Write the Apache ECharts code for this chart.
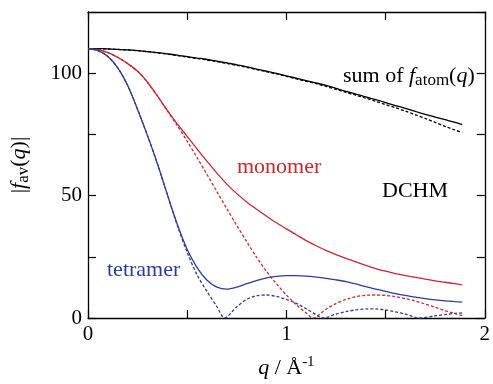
<!DOCTYPE html>
<html>
<head>
<meta charset="utf-8">
<script src="https://cdn.jsdelivr.net/npm/echarts@6/dist/echarts.min.js"></script>
<style>
  html, body { margin: 0; padding: 0; background: #fff; }
  #chart { width: 493px; height: 384px; }
</style>
</head>
<body>
<div id="chart"></div>
<script>
  // q grid (1/Angstrom) shared by the solid curves
  const qGrid = [0, 0.05, 0.1, 0.15, 0.2, 0.25, 0.3, 0.35, 0.4, 0.45, 0.5, 0.55, 0.6, 0.65, 0.7, 0.75, 0.8, 0.85, 0.9, 0.95,
    1.0, 1.05, 1.1, 1.15, 1.2, 1.25, 1.3, 1.35, 1.4, 1.45, 1.5, 1.55, 1.6, 1.65, 1.7, 1.75, 1.8, 1.85, 1.886];

  const sumSolid = [110, 110, 109.9, 109.7, 109.5, 109.2, 108.8, 108.4, 107.9, 107.4, 106.8, 106.2, 105.6, 104.9, 104.2, 103.4, 102.6, 101.7, 100.8, 99.9,
    98.9, 98.0, 97.0, 96.0, 95.0, 93.8, 92.6, 91.5, 90.3, 89.2, 88.0, 86.8, 85.6, 84.4, 83.2, 82.1, 81.0, 79.9, 79.0];
  const sumDashed = [110, 110, 109.9, 109.7, 109.5, 109.2, 108.8, 108.3, 107.8, 107.2, 106.6, 106.0, 105.4, 104.7, 104.0, 103.2, 102.4, 101.5, 100.6, 99.7,
    98.7, 97.7, 96.7, 95.7, 94.6, 93.4, 92.2, 91.0, 89.8, 88.5, 87.2, 85.9, 84.5, 83.0, 81.5, 79.9, 78.3, 76.8, 75.8];

  const monoSolid = [110, 109.6, 108.4, 106.5, 103.9, 100.8, 96.3, 90.7, 84.8, 79.3, 74.2, 69.0, 64.0, 59.2, 54.7, 50.8, 47.4, 44.4, 41.6, 38.9,
    36.4, 34.0, 31.6, 29.5, 27.6, 25.9, 24.4, 22.9, 21.5, 20.2, 19.1, 18.1, 17.3, 16.6, 15.9, 15.2, 14.6, 14.0, 13.5];
  const tetraSolid = [110, 109.2, 106.8, 102.2, 95.0, 85.2, 74.5, 63.0, 50.4, 38.3, 28.0, 20.6, 15.4, 12.6, 11.8, 12.6, 14.0, 15.3, 16.4, 17.0,
    17.3, 17.3, 17.1, 16.7, 16.2, 15.6, 14.9, 13.9, 12.8, 11.8, 10.9, 10.0, 9.2, 8.5, 7.9, 7.4, 7.0, 6.7, 6.5];

  const monoDashQ = [0, 0.05, 0.1, 0.15, 0.2, 0.25, 0.3, 0.35, 0.4, 0.45, 0.5, 0.55, 0.6, 0.65, 0.7, 0.75, 0.8, 0.85, 0.9, 0.95,
    1.0, 1.05, 1.1, 1.135, 1.2, 1.25, 1.3, 1.35, 1.4, 1.45, 1.5, 1.55, 1.6, 1.65, 1.7, 1.75, 1.8, 1.85, 1.886];
  const monoDashed = [110, 109.6, 108.4, 106.5, 103.9, 100.8, 96.3, 90.7, 84.6, 78.6, 72.2, 65.5, 58.6, 51.6, 44.6, 37.8, 31.2, 24.8, 19.0, 14.0,
    9.4, 5.4, 2.0, 0, 3.6, 5.9, 7.6, 8.7, 9.3, 9.4, 9.2, 8.7, 7.9, 6.9, 5.7, 4.4, 3.0, 1.8, 1.0];

  const tetraDashQ = [0, 0.05, 0.1, 0.15, 0.2, 0.25, 0.3, 0.35, 0.4, 0.45, 0.5, 0.55, 0.6, 0.65, 0.688, 0.75, 0.8, 0.85, 0.9, 0.95,
    1.0, 1.05, 1.1, 1.15, 1.185, 1.25, 1.3, 1.35, 1.4, 1.45, 1.5, 1.55, 1.6, 1.672, 1.75, 1.8, 1.85, 1.886];
  const tetraDashed = [110, 109.2, 106.8, 102.2, 95.0, 85.2, 74.5, 63.0, 50.4, 37.9, 26.8, 17.6, 10.8, 4.6, 0, 4.6, 7.6, 9.1, 9.4, 8.8,
    7.6, 6.0, 3.8, 1.3, 0, 1.6, 2.6, 3.3, 3.7, 3.7, 3.3, 2.5, 1.6, 0, 0.9, 1.4, 1.9, 2.1];

  const xTicks = [0, 1, 2];
  const yTicks = [0, 50, 100];

  const RED = "#c8282e";
  const BLUE = "#2e3b9c";
  const FONT = "Liberation Serif";

  const zip = (xs, ys) => xs.map((x, i) => [x, ys[i]]);

  const rich = {
    n: { fontFamily: FONT, fontSize: 22, lineHeight: 26, color: "#000" },
    i: { fontFamily: FONT, fontSize: 22, lineHeight: 26, fontStyle: "italic", color: "#000" },
    s: { fontFamily: FONT, fontSize: 17, lineHeight: 19, verticalAlign: "bottom", color: "#000" },
    sup: { fontFamily: FONT, fontSize: 15, lineHeight: 15, verticalAlign: "top", color: "#000" },
  };

  const line = (name, data, color, dashed) => ({
    name,
    type: "line",
    data,
    showSymbol: false,
    smooth: 0.3,
    clip: true,
    silent: true,
    lineStyle: { color, width: 1.3, type: dashed ? [3, 2] : "solid" },
    z: dashed ? 2 : 3,
  });

  const axisCommon = {
    min: 0,
    axisLine: { onZero: false, lineStyle: { color: "#000", width: 1.3 } },
    axisTick: { inside: true, length: 8, lineStyle: { color: "#000", width: 1.2 } },
    splitLine: { show: false },
  };

  const myChart = echarts.init(document.getElementById("chart"));
  const option = {
    animation: false,
    grid: { left: 86, right: -2, top: 12, bottom: 63 },
    xAxis: [
      {
        ...axisCommon,
        type: "value",
        max: 2,
        interval: 0.5,
        position: "bottom",
        axisLabel: {
          fontFamily: FONT, fontSize: 21, color: "#000", margin: 6,
          formatter: (v) => (xTicks.includes(v) ? String(v) : ""),
        },
        name: "{i|q}{n| / Å}{sup|-1}",
        nameLocation: "middle",
        nameGap: 37,
        nameTextStyle: { rich, verticalAlign: "top" },
      },
      {
        ...axisCommon,
        type: "value",
        max: 2,
        interval: 0.5,
        position: "top",
        axisLabel: { show: false },
      },
    ],
    yAxis: [
      {
        ...axisCommon,
        type: "value",
        max: 125,
        interval: 25,
        position: "left",
        axisLabel: {
          fontFamily: FONT, fontSize: 21, color: "#000", margin: 6,
          formatter: (v) => (yTicks.includes(v) ? String(v) : ""),
        },
        name: "{n||}{i|f}{s|av}{n|(}{i|q}{n|)|}",
        nameLocation: "middle",
        nameRotate: 90,
        nameGap: 56,
        nameTextStyle: { rich },
      },
      {
        ...axisCommon,
        type: "value",
        max: 125,
        interval: 25,
        position: "right",
        axisLabel: { show: false },
      },
    ],
    series: [
      line("sum dashed", zip(qGrid, sumDashed), "#000", true),
      line("sum", zip(qGrid, sumSolid), "#000", false),
      line("monomer dashed", zip(monoDashQ, monoDashed), RED, true),
      line("monomer", zip(qGrid, monoSolid), RED, false),
      line("tetramer dashed", zip(tetraDashQ, tetraDashed), BLUE, true),
      line("tetramer", zip(qGrid, tetraSolid), BLUE, false),
    ],
    graphic: [
      {
        type: "text", left: 343, top: 65,
        style: { text: "{n|sum of }{i|f}{s|atom}{n|(}{i|q}{n|)}", rich },
      },
      {
        type: "text", left: 237, top: 156,
        style: { text: "monomer", fontFamily: FONT, fontSize: 22, fill: RED },
      },
      {
        type: "text", left: 382, top: 180,
        style: { text: "DCHM", fontFamily: FONT, fontSize: 22, fill: "#000" },
      },
      {
        type: "text", left: 107, top: 259,
        style: { text: "tetramer", fontFamily: FONT, fontSize: 22, fill: BLUE },
      },
    ],
  };
  myChart.setOption(option);
</script>
</body>
</html>
